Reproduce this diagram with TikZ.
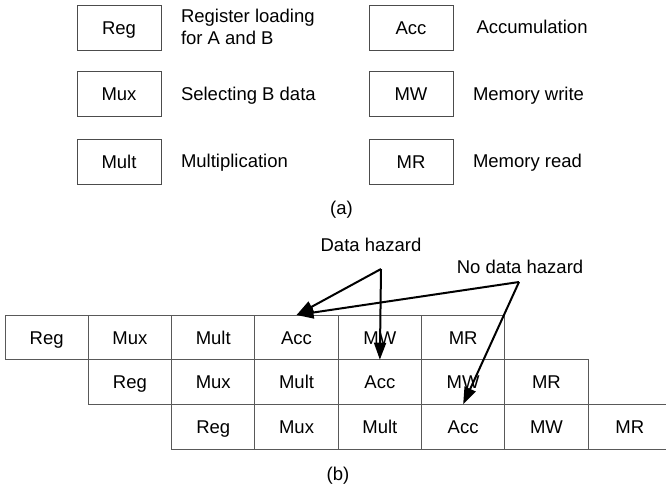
\documentclass[tikz,border=0pt]{standalone}
\usepackage{fontspec}
\setmainfont{Liberation Sans}
\usetikzlibrary{arrows.meta}

\begin{document}
\begin{tikzpicture}[x=1pt,y=-1pt,
  every node/.style={font=\fontsize{18.5}{22}\selectfont, inner sep=0pt, outer sep=0pt,
                     text height=13.3pt, text depth=0pt},
  keybox/.style={draw=black!70, line width=0.9pt, minimum width=84pt, minimum height=45pt},
  cell/.style={draw=black!65, line width=0.9pt, minimum width=83.3pt, minimum height=44.7pt},
  desc/.style={anchor=west},
  hazard/.style={line width=2pt, -{Triangle[length=17pt,width=12pt]}}
]
\clip (0,0) rectangle (666,489);
\useasboundingbox (0,0) rectangle (666,489);

% ---- (a) legend of pipeline stages ----
\node[keybox] (kReg)  at (119,27.5)  {Reg};
\node[keybox] (kMux)  at (119,94)    {Mux};
\node[keybox] (kMult) at (119,161.5) {Mult};
\node[keybox] (kAcc)  at (411,27.5)  {Acc};
\node[keybox] (kMW)   at (411,94)    {MW};
\node[keybox] (kMR)   at (411,161.5) {MR};

\node[desc] (dReg)  at (181,16)  {Register loading};
\node[desc] (dReg2) at (181,38)  {for A and B};
\node[desc] (dMux)  at (181,94)  {Selecting B data};
\node[desc] (dMult) at (181,161) {Multiplication};
\node[desc] (dAcc)  at (476.5,27) {Accumulation};
\node[desc] (dMW)   at (473,94)  {Memory write};
\node[desc] (dMR)   at (473,161) {Memory read};

\node (capA) at (341.5,208) {(a)};

% ---- (b) three overlapping pipeline rows ----
\foreach \name [count=\k from 0] in {Reg,Mux,Mult,Acc,MW,MR}{
  \node[cell] (a\k) at ({46.65+83.3*\k},337.35) {\name};
  \node[cell] (b\k) at ({129.95+83.3*\k},382.05) {\name};
  \node[cell] (c\k) at ({213.25+83.3*\k},426.75) {\name};
}

\node (lblD) at (371,245) {Data hazard};
\node (lblN) at (520,267) {No data hazard};

\coordinate (pD) at (381,269);
\coordinate (pN) at (519,282);

\draw[hazard] (pD) -- (a3.north);
\draw[hazard] (pD) -- (b3.north);
\draw[hazard] (pN) -- (a3.north);
\draw[hazard] (pN) -- (c3.north);

\node (capB) at (338,474) {(b)};
\end{tikzpicture}
\end{document}
